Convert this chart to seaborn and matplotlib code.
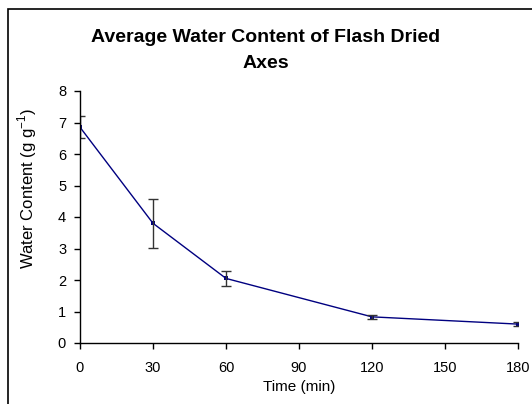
import matplotlib
matplotlib.use("Agg")
import matplotlib.pyplot as plt
import seaborn as sns
import pandas as pd
from matplotlib.patches import Rectangle

time_min = [0, 30, 60, 120, 180]
water = [6.85, 3.8, 2.05, 0.83, 0.6]
err = [0.35, 0.77, 0.25, 0.07, 0.07]
x_ticks = [0, 30, 60, 90, 120, 150, 180]
y_ticks = [0, 1, 2, 3, 4, 5, 6, 7, 8]

sns.set_theme(style="white")
plt.rcParams['font.family'] = ['Liberation Sans', 'DejaVu Sans']

df = pd.DataFrame({"t": time_min, "w": water})

fig = plt.figure(figsize=(5.32, 4.04), dpi=100)
ax = fig.add_axes([80/532, 1-343/404, (518-80)/532, (343-91)/404])

sns.lineplot(data=df, x="t", y="w", ax=ax, color="#000080", linewidth=1.0,
             marker="s", markersize=3, markeredgewidth=0)
ax.errorbar(time_min, water, yerr=err, fmt="none", ecolor="#333333",
            elinewidth=1.0, capsize=3.5, capthick=1.0)

ax.set_xlim(0, 180)
ax.set_ylim(0, 8)
ax.set_xticks(x_ticks)
ax.set_yticks(y_ticks)
ax.tick_params(axis="both", direction="out", length=4, width=1, color="black",
               labelsize=10.5, labelcolor="black", bottom=True, left=True)
ax.tick_params(axis="x", pad=9)
ax.tick_params(axis="y", pad=6)
for s in ["top", "right"]:
    ax.spines[s].set_visible(False)
for s in ["left", "bottom"]:
    ax.spines[s].set_color("black")
    ax.spines[s].set_linewidth(1.0)
ax.set_facecolor("white")
ax.grid(False)

ax.set_xlabel("Time (min)", fontsize=11, color="black")
ax.xaxis.set_label_coords(0.5, -(387-343)/252, transform=ax.transAxes)
ax.xaxis.label.set_va("center")
ax.set_ylabel("Water Content (g g$^{\\mathregular{-1}}$)", fontsize=12, color="black")
ax.yaxis.set_label_coords(-(80-27)/438, (343-189)/252, transform=ax.transAxes)
ax.yaxis.label.set_va("center")

fig.text(0.5, 1-38/404, "Average Water Content of Flash Dried", ha="center",
         va="center", fontsize=14, fontweight="bold", color="black")
fig.text(0.5, 1-63/404, "Axes", ha="center", va="center", fontsize=14,
         fontweight="bold", color="black")

fig.patches.append(Rectangle((7.5/532, -0.1), 1.2, 1 - 8.5/404 + 0.1,
                             transform=fig.transFigure, fill=False,
                             edgecolor="black", linewidth=1.2))

fig.savefig("out.png", dpi=100)
